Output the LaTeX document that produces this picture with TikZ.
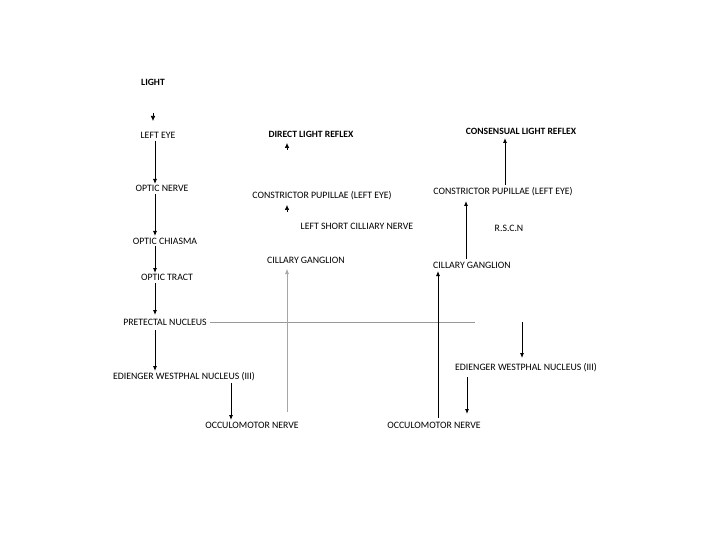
\documentclass[tikz,border=0pt]{standalone}
\usepackage{fontspec}
\setmainfont{Carlito}
\usetikzlibrary{arrows.meta}
\begin{document}
\begin{tikzpicture}[x=1pt,y=-1pt,
  lbl/.style={inner sep=0pt,font=\fontsize{9.8}{10}\selectfont},
  blbl/.style={inner sep=0pt,font=\fontsize{9.6}{10}\selectfont\bfseries},
  arr/.style={draw=black,line width=0.8pt,-{Latex[length=5pt,width=4pt]}},
  garr/.style={draw=gray!70,line width=0.6pt,-{Latex[length=5pt,width=4pt]}},
  tip/.style={draw=black,line width=0.6pt,-{Latex[length=5pt,width=4.5pt]}}]
\useasboundingbox (0,0) rectangle (720,540);
% left column
\node[blbl] (light) at (153,82) {LIGHT};
\node[lbl] (leye) at (158,135) {LEFT EYE};
\node[lbl] (onerve) at (162,188) {OPTIC NERVE};
\node[lbl] (ochi) at (165,241) {OPTIC CHIASMA};
\node[lbl] (otract) at (167,277) {OPTIC TRACT};
\node[lbl] (pret) at (165,322) {PRETECTAL NUCLEUS};
\node[lbl] (ew1) at (184,377) {EDIENGER WESTPHAL NUCLEUS (III)};
\node[lbl] (om1) at (252,425) {OCCULOMOTOR NERVE};
% middle column
\node[blbl] (direct) at (311,134) {DIRECT LIGHT REFLEX};
\node[lbl] (cp1) at (322,196) {CONSTRICTOR PUPILLAE (LEFT EYE)};
\node[lbl] (lscn) at (357,226) {LEFT SHORT CILLIARY NERVE};
\node[lbl] (cg1) at (306,260) {CILLARY GANGLION};
% right column
\node[blbl] (cons) at (521,131) {CONSENSUAL LIGHT REFLEX};
\node[lbl] (cp2) at (503,192) {CONSTRICTOR PUPILLAE (LEFT EYE)};
\node[lbl] (rscn) at (509,228) {R.S.C.N};
\node[lbl] (cg2) at (472,265) {CILLARY GANGLION};
\node[lbl] (ew2) at (526,368) {EDIENGER WESTPHAL NUCLEUS (III)};
\node[lbl] (om2) at (434,425) {OCCULOMOTOR NERVE};
% coordinates
\coordinate (t1a) at (153,113);
\coordinate (t1b) at (153,121);
\coordinate (t2a) at (287,150);
\coordinate (t2b) at (287,143);
\coordinate (t3a) at (287,212);
\coordinate (t3b) at (287,205);
\coordinate (hstart) at (210,322);
\coordinate (hend) at (475,322);
\coordinate (gstart) at (287,412);
\coordinate (gend) at (287,269);
\coordinate (ewin) at (522,322);
% lone tips
\draw[tip] (t1a) -- (t1b);
\draw[tip] (t2a) -- (t2b);
\draw[tip] (t3a) -- (t3b);
% left chain
\draw[arr] (155,141) -- (155,184);
\draw[arr] (155,194) -- (155,236);
\draw[arr] (155,246) -- (155,273);
\draw[arr] (155,283) -- (155,315);
\draw[arr] (155,330) -- (155,371);
\draw[arr] (231,383) -- (231,420);
% horizontal line
\draw[gray!80,line width=0.6pt] (hstart) -- (hend);
% middle gray arrow
\draw[garr] (gstart) -- (gend);
% right chain
\draw[arr] (438,418) -- (438,271);
\draw[arr] (466,259) -- (466,201);
\draw[arr] (505,185) -- (505,138);
\draw[arr] (ewin) -- (522,358);
\draw[arr] (467,377) -- (467,414);
\end{tikzpicture}
\end{document}
